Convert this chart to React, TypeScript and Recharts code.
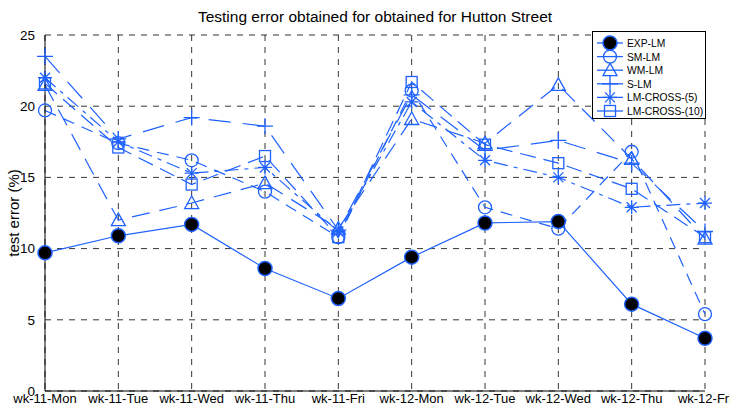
import React from "react";
import { LineChart, Line, XAxis, YAxis, CartesianGrid } from "recharts";

const days = [
  "wk-11-Mon", "wk-11-Tue", "wk-11-Wed", "wk-11-Thu", "wk-11-Fri",
  "wk-12-Mon", "wk-12-Tue", "wk-12-Wed", "wk-12-Thu", "wk-12-Fri",
];
const expLm = [9.7, 10.9, 11.7, 8.6, 6.5, 9.4, 11.8, 11.9, 6.1, 3.7];
const smLm = [19.7, 17.4, 16.2, 14.0, 10.8, 21.1, 12.9, 11.4, 16.8, 5.4];
const wmLm = [21.5, 12.0, 13.2, 14.6, 11.4, 19.1, 17.4, 21.5, 16.3, 10.7];
const sLm = [23.5, 17.7, 19.2, 18.6, 11.3, 20.8, 16.9, 17.6, 16.0, 11.2];
const cross5 = [22.0, 17.5, 15.3, 15.7, 11.2, 20.3, 16.2, 15.0, 12.9, 13.2];
const cross10 = [21.6, 17.1, 14.5, 16.5, 10.8, 21.7, 17.3, 16.0, 14.2, 10.8];
const yTicks = [0, 5, 10, 15, 20, 25];

const BLUE = "#1f62ff";
const FONT = "'Liberation Sans', Arial, sans-serif";

const data = days.map((d, i) => ({
  day: d,
  exp: expLm[i],
  sm: smLm[i],
  wm: wmLm[i],
  s: sLm[i],
  c5: cross5[i],
  c10: cross10[i],
}));

type Shape = "dot" | "circle" | "triangle" | "plus" | "star" | "square";

const Marker = ({ shape, cx, cy }: { shape: Shape; cx: number; cy: number }) => {
  const sw = 1.3;
  switch (shape) {
    case "dot":
      return <circle cx={cx} cy={cy} r={7} fill="#000" stroke={BLUE} strokeWidth={1.5} />;
    case "circle":
      return <circle cx={cx} cy={cy} r={6.5} fill="none" stroke={BLUE} strokeWidth={sw} />;
    case "triangle":
      return (
        <polygon
          points={`${cx},${cy - 7} ${cx - 7},${cy + 5.5} ${cx + 7},${cy + 5.5}`}
          fill="none"
          stroke={BLUE}
          strokeWidth={sw}
        />
      );
    case "plus":
      return (
        <path d={`M${cx - 8},${cy}H${cx + 8}M${cx},${cy - 8}V${cy + 8}`} stroke={BLUE} strokeWidth={sw} />
      );
    case "star":
      return (
        <path
          d={`M${cx - 7},${cy}H${cx + 7}M${cx},${cy - 7}V${cy + 7}M${cx - 5},${cy - 5}L${cx + 5},${cy + 5}M${cx - 5},${cy + 5}L${cx + 5},${cy - 5}`}
          stroke={BLUE}
          strokeWidth={sw}
        />
      );
    case "square":
      return (
        <rect x={cx - 5.5} y={cy - 5.5} width={11} height={11} fill="none" stroke={BLUE} strokeWidth={sw} />
      );
  }
  return null;
};

const dotFor = (shape: Shape) => (p: any) =>
  <Marker key={`${shape}-${p.index}`} shape={shape} cx={p.cx} cy={p.cy} />;

const series: { key: string; name: string; shape: Shape; dash?: string }[] = [
  { key: "exp", name: "EXP-LM", shape: "dot" },
  { key: "sm", name: "SM-LM", shape: "circle", dash: "12 8" },
  { key: "wm", name: "WM-LM", shape: "triangle", dash: "18 10" },
  { key: "s", name: "S-LM", shape: "plus", dash: "22 12" },
  { key: "c5", name: "LM-CROSS-(5)", shape: "star", dash: "14 6 4 6" },
  { key: "c10", name: "LM-CROSS-(10)", shape: "square", dash: "16 8" },
];

const LegendBox = () => (
  <svg width={114} height={88} style={{ position: "absolute", left: 592, top: 31 }}>
    <rect x={0.5} y={0.5} width={113} height={87} fill="#fff" stroke="#000" strokeWidth={1} />
    {series.map((s, i) => {
      const y = 12 + i * 13.6;
      return (
        <g key={s.key}>
          <line x1={5} x2={31} y1={y} y2={y} stroke={BLUE} strokeWidth={1.3} />
          <Marker shape={s.shape} cx={18} cy={y} />
          <text x={35} y={y + 4} fontSize={10.3} fontFamily={FONT} fill="#000">
            {s.name}
          </text>
        </g>
      );
    })}
  </svg>
);

export default function App() {
  return (
    <div style={{ position: "absolute", left: 0, top: 0, width: 730, height: 405, background: "#fff" }}>
      <div
        style={{
          position: "absolute",
          left: 45,
          top: 8,
          width: 660,
          textAlign: "center",
          fontFamily: FONT,
          fontSize: 15.5,
          lineHeight: "18px",
          color: "#000",
        }}
      >
        Testing error obtained for obtained for Hutton Street
      </div>
      <LineChart
        width={730}
        height={405}
        data={data}
        margin={{ top: 35, right: 25, bottom: 0, left: 0 }}
      >
        <CartesianGrid stroke="#000" strokeDasharray="6 6" strokeWidth={0.8} />
        <XAxis
          dataKey="day"
          interval={0}
          tickLine={false}
          tickSize={0}
          tickMargin={3}
          height={14}
          axisLine={{ stroke: "#000" }}
          tick={{ fill: "#000", fontSize: 13, fontFamily: FONT }}
        />
        <XAxis xAxisId="top" orientation="top" dataKey="day" tick={false} tickLine={false} height={0} axisLine={{ stroke: "#000" }} />
        <YAxis
          domain={[0, 25]}
          ticks={yTicks}
          width={45}
          tickLine={false}
          tickMargin={4}
          axisLine={{ stroke: "#000" }}
          tick={{ fill: "#000", fontSize: 13.5, fontFamily: FONT }}
          label={{
            value: "test error (%)",
            angle: -90,
            position: "insideLeft",
            offset: 14,
            style: { fill: "#000", fontSize: 15, fontFamily: FONT, textAnchor: "middle" },
          }}
        />
        <YAxis yAxisId="right" orientation="right" domain={[0, 25]} tick={false} tickLine={false} width={0} axisLine={{ stroke: "#000" }} />
        {series
          .slice()
          .reverse()
          .map((s) => (
            <Line
              key={s.key}
              dataKey={s.key}
              name={s.name}
              type="linear"
              stroke={BLUE}
              strokeWidth={1.2}
              strokeDasharray={s.dash}
              dot={dotFor(s.shape)}
              activeDot={false}
              isAnimationActive={false}
            />
          ))}
      </LineChart>
      <LegendBox />
    </div>
  );
}
